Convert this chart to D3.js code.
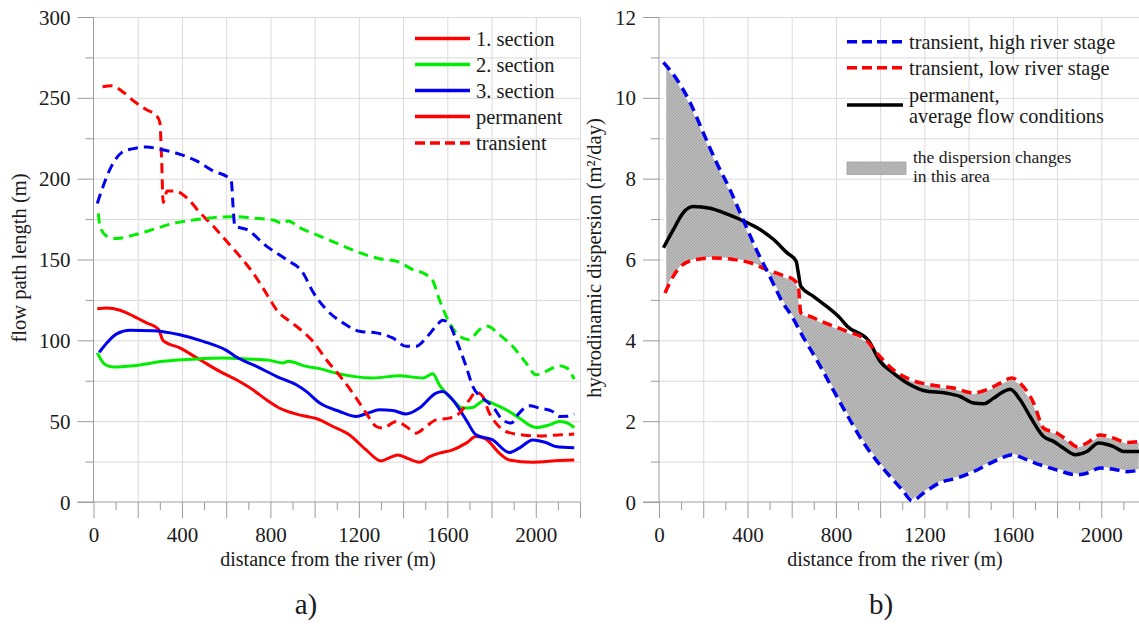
<!DOCTYPE html>
<html><head><meta charset="utf-8">
<script src="https://cdn.jsdelivr.net/npm/d3@7"></script>
<style>
body{margin:0;background:#fff;}
</style></head><body>
<svg id="c" width="1139" height="628" xmlns="http://www.w3.org/2000/svg"></svg>
<script>
// ---------- data ----------
const xTickLabels = [0, 400, 800, 1200, 1600, 2000];
const leftYTicks = [0, 50, 100, 150, 200, 250, 300];
const rightYTicks = [0, 2, 4, 6, 8, 10, 12];

// a) flow path length (m) vs distance (m)
const sec1Permanent = [[17,119.5],[60,120],[120,118.6],[180,115],[240,110.8],[293,107],[315,99.8],[390,95.3],[481,88],[571,80.8],[646,75.6],[721,69.4],[782,63.2],[842,58],[902,55],[960,53],[1010,51.5],[1083,46.7],[1158,41.5],[1233,32.2],[1301,25.4],[1340,27.5],[1376,29.1],[1420,27],[1474,24.6],[1520,28],[1564,30.2],[1624,32.2],[1685,36.4],[1730,40.5],[1775,38.9],[1835,30.2],[1880,26],[1986,24.6],[2106,25.6],[2174,26]];
const sec2Permanent = [[17,92.2],[52,85],[89,83.5],[180,84.3],[315,87],[466,88.5],[586,89],[692,88.5],[797,87.6],[857,86],[880,87],[962,83.9],[1023,82.5],[1083,80.2],[1173,77.7],[1263,76.7],[1384,78.1],[1489,76.7],[1534,79.3],[1564,72.5],[1624,63.2],[1670,58.1],[1715,58.5],[1767,62.8],[1820,60.1],[1880,56],[1925,51.9],[2001,46.1],[2061,47.7],[2106,49.8],[2140,49],[2174,46]];
const sec3Permanent = [[26,92.6],[60,98.4],[105,104],[165,106.2],[270,106],[390,103.5],[496,99.4],[601,93.8],[646,89.7],[737,83.9],[827,77.7],[917,72.5],[962,68.4],[1023,61.2],[1113,56],[1188,52.9],[1240,55],[1293,57],[1353,56.6],[1414,54.4],[1474,58.1],[1549,67.4],[1579,68.4],[1624,63.2],[1685,50.8],[1730,41.5],[1805,38.4],[1880,30.6],[1925,33.3],[1986,38.4],[2046,36.8],[2091,34.3],[2174,33.5]];
const sec1Transient = [[41,256.8],[82,257.5],[127,254.3],[180,248.2],[240,242.6],[285,238.9],[300,234.8],[308,212],[315,185.2],[333,192.4],[368,192.4],[421,188.3],[481,179],[541,170.7],[601,161.4],[661,152.1],[721,141.8],[789,127.3],[827,119],[887,111.8],[933,107],[992,99.4],[1053,88],[1128,75.6],[1188,64.3],[1233,55],[1279,46.7],[1308,45.7],[1369,49.8],[1414,46.7],[1459,42.6],[1504,46.7],[1549,50.8],[1610,51.9],[1655,55],[1700,63.2],[1730,68],[1760,65.3],[1790,55],[1820,48.8],[1865,43.6],[1941,41.5],[2016,40.9],[2106,41.5],[2174,42]];
const sec2Transient = [[22,178.5],[29,170.7],[60,164.5],[105,163],[180,165.1],[270,168.6],[360,172.3],[451,174.4],[541,175.9],[631,176.5],[721,175.6],[812,174.4],[857,172.3],[880,173.8],[932,169.7],[1023,164.5],[1113,159.3],[1203,154.2],[1293,150.5],[1369,149],[1444,143.8],[1504,140.7],[1534,137],[1564,125.2],[1610,110.8],[1655,102.5],[1700,100.4],[1745,106.6],[1782,108.7],[1835,103.5],[1895,96.3],[1956,86],[2001,78.7],[2046,80.8],[2106,84.3],[2140,83],[2174,76]];
const sec3Transient = [[17,184.7],[44,195.5],[82,207.9],[127,216.1],[180,218.6],[240,219.6],[300,218.2],[376,215.7],[466,211],[541,204.8],[616,200],[624,197.6],[631,183],[639,170.7],[692,168.6],[782,158.3],[872,150],[947,141.8],[992,130],[1053,119],[1128,110.8],[1203,105.6],[1279,104.6],[1353,101.5],[1414,96.3],[1459,96.3],[1504,101.5],[1549,108.7],[1579,112.4],[1610,109.7],[1640,100.4],[1685,83.9],[1715,71.5],[1760,64.3],[1805,59.1],[1850,50.8],[1888,48.8],[1925,55],[1971,59.5],[2016,58.1],[2076,56],[2106,52.9],[2140,53],[2174,54.5]];

// b) hydrodinamic dispersion (m2/day) vs distance (m)
const highStage = [[20,10.88],[80,10.46],[140,9.89],[200,9.14],[260,8.40],[320,7.74],[380,6.99],[440,6.25],[500,5.59],[560,4.93],[600,4.6],[650,4.1],[720,3.45],[785,2.8],[850,2.16],[915,1.55],[980,1.05],[1050,0.6],[1100,0.3],[1145,0.03],[1196,0.22],[1271,0.48],[1347,0.59],[1422,0.75],[1498,0.96],[1558,1.11],[1596,1.17],[1648,1.08],[1724,0.92],[1800,0.79],[1890,0.67],[1935,0.71],[1995,0.84],[2056,0.81],[2116,0.75],[2175,0.79]];
const lowStage = [[27,5.17],[65,5.59],[110,5.88],[171,6.0],[246,6.04],[336,6.0],[412,5.92],[487,5.75],[548,5.63],[608,5.5],[630,5.34],[641,4.68],[683,4.59],[751,4.43],[851,4.22],[933,4.02],[999,3.6],[1060,3.27],[1136,3.03],[1226,2.9],[1332,2.82],[1422,2.7],[1483,2.78],[1543,2.94],[1596,3.07],[1633,2.94],[1694,2.45],[1739,1.83],[1800,1.70],[1845,1.54],[1890,1.37],[1935,1.46],[1995,1.66],[2056,1.58],[2116,1.47],[2175,1.5]];
const permanentAvg = [[20,6.29],[65,6.74],[110,7.16],[155,7.31],[231,7.27],[291,7.16],[367,6.99],[442,6.79],[517,6.5],[578,6.17],[620,5.96],[630,5.67],[641,5.34],[698,5.09],[758,4.84],[819,4.55],[851,4.35],[949,3.98],[1000,3.48],[1060,3.19],[1136,2.9],[1196,2.76],[1302,2.69],[1362,2.61],[1422,2.45],[1468,2.43],[1513,2.57],[1558,2.73],[1588,2.79],[1633,2.53],[1679,2.11],[1739,1.62],[1784,1.5],[1830,1.33],[1882,1.17],[1935,1.25],[1988,1.46],[2056,1.37],[2101,1.25],[2175,1.25]];

const leftLegend = ["1. section", "2. section", "3. section", "permanent", "transient"];
const rightLegend = ["transient, high river stage", "transient, low river stage", "permanent,", "average flow conditions", "the dispersion changes", "in this area"];

// ---------- drawing ----------
const FONT = "'Liberation Serif', Tinos, 'Times New Roman', 'DejaVu Serif', serif";
const RED = "#ff0000", GREEN = "#00ee00", BLUE = "#0000ee";
const svg = d3.select("#c").attr("font-family", FONT);
const defs = svg.append("defs");
const pat = defs.append("pattern").attr("id","hatch").attr("width",3).attr("height",3).attr("patternUnits","userSpaceOnUse");
pat.append("rect").attr("width",3).attr("height",3).attr("fill","#bbbbbb");
pat.append("path").attr("d","M0,3L3,0").attr("stroke","#a0a0a0").attr("stroke-width",0.9);

const TOP = 17, BOT = 502, PW = 486.5;
const TICK_FS = 21;

function txt(sel) { return sel.attr("font-family", FONT).attr("fill", "#1a1a1a"); }

function panel(x0, ymax, yTicks, yMinor) {
  const x = d3.scaleLinear().domain([0, 2200]).range([x0, x0 + PW]);
  const y = d3.scaleLinear().domain([0, ymax]).range([BOT, TOP]);
  const g = svg.append("g");
  // grid
  const gx = d3.range(200, 2201, 200);
  g.append("g").attr("transform", `translate(0,${TOP})`)
    .call(d3.axisBottom(x).tickValues(gx).tickSize(BOT - TOP).tickFormat(""))
    .call(s => { s.select(".domain").remove(); s.selectAll("line").attr("stroke", "#dadada"); });
  const gy = d3.range(0, ymax + 1e-9, yMinor).slice(1);
  g.append("g").attr("transform", `translate(${x0},0)`)
    .call(d3.axisRight(y).tickValues(gy).tickSize(PW).tickFormat(""))
    .call(s => { s.select(".domain").remove(); s.selectAll("line").attr("stroke", "#dadada"); });
  // axis lines
  g.append("line").attr("x1", x0).attr("x2", x0).attr("y1", TOP).attr("y2", BOT).attr("stroke", "#9c9c9c");
  g.append("line").attr("x1", x0 - 16).attr("x2", Math.min(x0 + PW, 1139)).attr("y1", BOT).attr("y2", BOT).attr("stroke", "#9c9c9c");
  // y ticks
  const ya = g.append("g").attr("transform", `translate(${x0},0)`)
    .call(d3.axisLeft(y).tickValues(yTicks).tickSize(16).tickPadding(7));
  ya.attr("font-family", FONT);
  ya.select(".domain").remove();
  ya.selectAll("line").attr("stroke", "#9c9c9c");
  txt(ya.selectAll("text")).style("font-size", TICK_FS + "px").attr("dy", "0.34em");
  const yMin = gy.filter(v => !yTicks.some(t => Math.abs(t - v) < 1e-9));
  g.append("g").attr("transform", `translate(${x0},0)`)
    .call(d3.axisLeft(y).tickValues(yMin).tickSize(8).tickFormat(""))
    .call(s => { s.select(".domain").remove(); s.selectAll("line").attr("stroke", "#9c9c9c"); });
  // x ticks
  const xa = g.append("g").attr("transform", `translate(0,${BOT})`)
    .call(d3.axisBottom(x).tickValues(d3.range(0, 2201, 200)).tickSize(16).tickPadding(9)
      .tickFormat(d => xTickLabels.includes(d) ? d : ""));
  xa.attr("font-family", FONT);
  xa.select(".domain").remove();
  xa.selectAll("line").attr("stroke", "#9c9c9c");
  txt(xa.selectAll("text")).style("font-size", TICK_FS + "px");
  g.append("g").attr("transform", `translate(0,${BOT})`)
    .call(d3.axisBottom(x).tickValues(d3.range(100, 2201, 200)).tickSize(8).tickFormat(""))
    .call(s => { s.select(".domain").remove(); s.selectAll("line").attr("stroke", "#9c9c9c"); });
  return { x, y, g };
}

function drawLine(p, data, color, dashed, width) {
  const line = d3.line().x(d => p.x(d[0])).y(d => p.y(d[1])).curve(d3.curveMonotoneX);
  p.g.append("path").datum(data).attr("d", line).attr("fill", "none")
    .attr("stroke", color).attr("stroke-width", width || 3)
    .attr("stroke-dasharray", dashed ? "10,6" : null)
    .attr("stroke-linejoin", "round");
}

function label(x, y, size, t, anchor, transform) {
  const s = svg.append("text").attr("x", x).attr("y", y).style("font-size", size + "px").text(t);
  if (anchor) s.attr("text-anchor", anchor);
  if (transform) s.attr("transform", transform);
  return txt(s);
}

// ----- panel a -----
const A = panel(93.5, 300, leftYTicks, 25);
drawLine(A, sec1Permanent, RED, false);
drawLine(A, sec2Permanent, GREEN, false);
drawLine(A, sec3Permanent, BLUE, false);
drawLine(A, sec1Transient, RED, true);
drawLine(A, sec2Transient, GREEN, true);
drawLine(A, sec3Transient, BLUE, true);

label(328, 565.5, 20, "distance from the river (m)", "middle");
label(0, 0, 20.5, "flow path length (m)", "middle", "translate(26,258) rotate(-90)");
label(306, 614, 29, "a)", "middle");

// left legend
const legA = [[RED, false], [GREEN, false], [BLUE, false], [RED, false], [RED, true]];
const legAY = [38.5, 64.5, 90.5, 116.5, 143];
leftLegend.forEach((t, i) => {
  svg.append("line").attr("x1", 415).attr("x2", 470).attr("y1", legAY[i]).attr("y2", legAY[i])
    .attr("stroke", legA[i][0]).attr("stroke-width", 3.5).attr("stroke-dasharray", legA[i][1] ? "10,5" : null);
  label(476, legAY[i] + 7, 20.5, t);
});

// ----- panel b -----
const B = panel(659, 12, rightYTicks, 1);
// shaded area between high and low river stage curves
function interp(data, xv) {
  if (xv <= data[0][0]) return data[0][1];
  for (let i = 1; i < data.length; i++) {
    if (xv <= data[i][0]) {
      const [xa, ya] = data[i - 1], [xb, yb] = data[i];
      return ya + (yb - ya) * (xv - xa) / (xb - xa);
    }
  }
  return data[data.length - 1][1];
}
const xs = Array.from(new Set(highStage.map(d => d[0]).concat(lowStage.map(d => d[0])))).filter(v => v >= 27).sort((a, b) => a - b);
const band = xs.map(v => [v, interp(highStage, v), interp(lowStage, v)]);
B.g.append("path").datum(band)
  .attr("d", d3.area().x(d => B.x(d[0])).y0(d => B.y(d[2])).y1(d => B.y(d[1])))
  .attr("fill", "url(#hatch)").attr("stroke", "#fff").attr("stroke-width", 2.5);
drawLine(B, permanentAvg, "#000", false, 3.5);
drawLine(B, lowStage, RED, true, 3.5);
drawLine(B, highStage, BLUE, true, 3.5);

label(895, 565.5, 20, "distance from the river (m)", "middle");
label(0, 0, 20.5, "hydrodinamic dispersion (m²/day)", "middle", "translate(601,258) rotate(-90)");
label(881, 614, 29, "b)", "middle");

// right legend
const lb = [[BLUE, true, 41.7], [RED, true, 67.7], ["#000", false, 105]];
lb.forEach(d => {
  svg.append("line").attr("x1", 847).attr("x2", 903).attr("y1", d[2]).attr("y2", d[2])
    .attr("stroke", d[0]).attr("stroke-width", 3.5).attr("stroke-dasharray", d[1] ? "10,5" : null);
});
const rbText = [[909, 48.5, 20.3], [909, 75, 20.3], [909, 102, 20.3], [909, 123, 20.3], [913, 162.5, 17.5], [913, 181.5, 17.5]];
rightLegend.forEach((t, i) => label(rbText[i][0], rbText[i][1], rbText[i][2], t));
svg.append("rect").attr("x", 847).attr("y", 162).attr("width", 59).attr("height", 12.5)
  .attr("fill", "url(#hatch)").attr("stroke", "#a0a0a0").attr("stroke-width", 0.8);
</script>
</body></html>
